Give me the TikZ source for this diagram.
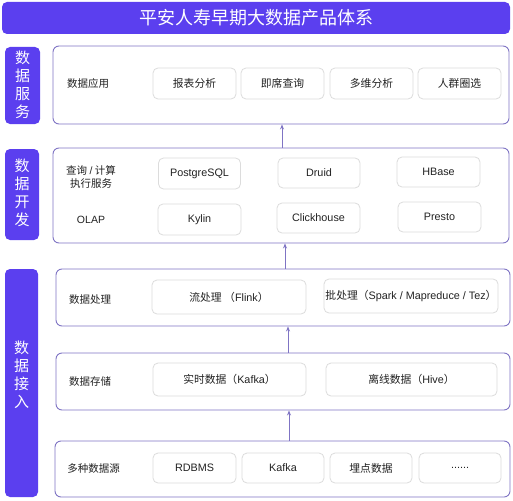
\documentclass[tikz,border=0pt]{standalone}
\usepackage{fontspec}
\setmainfont{Noto Sans CJK SC}
\newfontfamily\lat{Liberation Sans}
\usetikzlibrary{arrows.meta}
\definecolor{mainblue}{HTML}{5B3FEF}
\definecolor{frame}{HTML}{7F74C4}
\definecolor{inner}{HTML}{DCDCDC}
\definecolor{txt}{HTML}{222222}
\tikzset{
  banner/.style={fill=mainblue, draw=none, rounded corners=5pt},
  sidebox/.style={fill=mainblue, draw=none, rounded corners=5pt},
  sidetxt/.style={text=white, font=\fontsize{15}{18}\selectfont, align=center},
  layer/.style={draw=frame, line width=0.9pt, fill=white, rounded corners=6pt},
  item/.style={draw=inner, line width=0.8pt, fill=white, rounded corners=5pt},
  itemtxt/.style={text=txt, font=\fontsize{10.8}{13}\selectfont, align=center},
  lbl/.style={text=txt, font=\fontsize{10.5}{12.5}\selectfont, align=center},
  flow/.style={draw=frame, line width=0.9pt, -{Stealth[length=5pt,width=4pt]}}
}
\begin{document}
\begin{tikzpicture}[x=1pt,y=-1pt]
\useasboundingbox (0,0) rectangle (513,500);
% title
\draw[banner] (2,2) rectangle (510,34);
\node[text=white, font=\fontsize{18}{20}\selectfont] (title) at (256,18) {平安人寿早期大数据产品体系};
% side labels
\draw[sidebox] (5,47) rectangle (40,124);
\node[sidetxt] (s1) at (22.5,85) {数\\据\\服\\务};
\draw[sidebox] (5,149) rectangle (39,240);
\node[sidetxt] (s2) at (22,193) {数\\据\\开\\发};
\draw[sidebox] (5,269) rectangle (38,497);
\node[sidetxt] (s3) at (21.5,375) {数\\据\\接\\入};
% layers
\node[layer, minimum width=456pt, minimum height=78pt] (L1) at (281,85) {};
\node[layer, minimum width=456pt, minimum height=95pt] (L2) at (281,195.5) {};
\node[layer, minimum width=454pt, minimum height=57pt] (L3) at (283,297.5) {};
\node[layer, minimum width=454pt, minimum height=57pt] (L4) at (283,381.5) {};
\node[layer, minimum width=455pt, minimum height=56pt] (L5) at (282.5,469) {};
% layer 1
\node[lbl] (l1) at (88,84) {数据应用};
\node[item, minimum width=83pt, minimum height=31pt] (a1) at (194.5,83.5) {};
\node[itemtxt] at (a1) {报表分析};
\node[item, minimum width=83pt, minimum height=31pt] (a2) at (282.5,83.5) {};
\node[itemtxt] at (a2) {即席查询};
\node[item, minimum width=83pt, minimum height=31pt] (a3) at (371.5,83.5) {};
\node[itemtxt] at (a3) {多维分析};
\node[item, minimum width=83pt, minimum height=31pt] (a4) at (459.5,83.5) {};
\node[itemtxt] at (a4) {人群圈选};
% layer 2
\node[lbl] (l2a) at (91,177) {查询 {\lat /} 计算\\执行服务};
\node[lbl] (l2b) at (91,220) {\lat OLAP};
\node[item, minimum width=82pt, minimum height=31pt] (b1) at (199.5,173.5) {};
\node[itemtxt] at (b1) {\lat PostgreSQL};
\node[item, minimum width=82pt, minimum height=30pt] (b2) at (319,173) {};
\node[itemtxt] at (b2) {\lat Druid};
\node[item, minimum width=83pt, minimum height=30pt] (b3) at (438.5,172) {};
\node[itemtxt] at (b3) {\lat HBase};
\node[item, minimum width=83pt, minimum height=31pt] (b4) at (199.5,219.5) {};
\node[itemtxt] at (b4) {\lat Kylin};
\node[item, minimum width=83pt, minimum height=30pt] (b5) at (318.5,218) {};
\node[itemtxt] at (b5) {\lat Clickhouse};
\node[item, minimum width=83pt, minimum height=30pt] (b6) at (439.5,217) {};
\node[itemtxt] at (b6) {\lat Presto};
% layer 3
\node[lbl] (l3) at (90,300) {数据处理};
\node[item, minimum width=154pt, minimum height=34pt] (c1) at (229,297) {};
\node[itemtxt] at (c1) {流处理 （{\lat Flink}）};
\node[item, minimum width=174pt, minimum height=34pt] (c2) at (411,296) {};
\node[itemtxt] at (c2) {批处理（{\lat Spark / Mapreduce / Tez}）};
% layer 4
\node[lbl] (l4) at (90,381.5) {数据存储};
\node[item, minimum width=153pt, minimum height=33pt] (d1) at (229.5,379.5) {};
\node[itemtxt] at (d1) {实时数据（{\lat Kafka}）};
\node[item, minimum width=171pt, minimum height=33pt] (d2) at (411.5,379.5) {};
\node[itemtxt] at (d2) {离线数据（{\lat Hive}）};
% layer 5
\node[lbl] (l5) at (93.5,469) {多种数据源};
\node[item, minimum width=83pt, minimum height=30pt] (e1) at (194.5,468) {};
\node[itemtxt] at (e1) {\lat RDBMS};
\node[item, minimum width=82pt, minimum height=30pt] (e2) at (283,468) {};
\node[itemtxt] at (e2) {\lat Kafka};
\node[item, minimum width=82pt, minimum height=30pt] (e3) at (371,468) {};
\node[itemtxt] at (e3) {埋点数据};
\node[item, minimum width=82pt, minimum height=30pt] (e4) at (460,468) {};
\node[itemtxt] at (e4) {\lat ......};
% arrows
\draw[flow] (L2.north -| 282,0) -- (L1.south -| 282,0);
\draw[flow] (L3.north -| 285,0) -- (L2.south -| 285,0);
\draw[flow] (L4.north -| 288,0) -- (L3.south -| 288,0);
\draw[flow] (L5.north -| 289,0) -- (L4.south -| 289,0);
\end{tikzpicture}
\end{document}
